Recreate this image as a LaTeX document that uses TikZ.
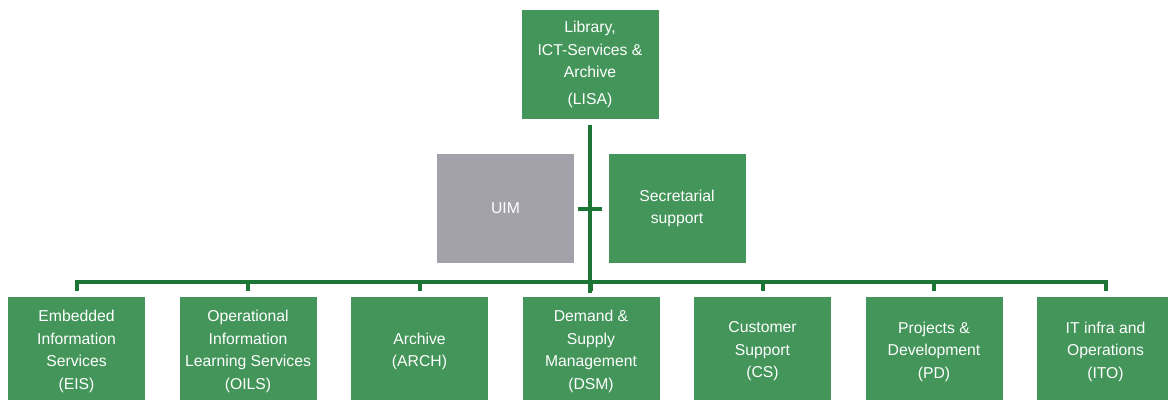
\documentclass[tikz,border=0pt]{standalone}
\usepackage{fontspec}
\setmainfont{Liberation Sans}
\definecolor{boxgreen}{HTML}{43955A}
\definecolor{linegreen}{HTML}{1D7535}
\definecolor{uimgray}{HTML}{A3A2AB}
\begin{document}
\begin{tikzpicture}[x=0.75pt,y=-0.75pt,
  unit/.style={fill=boxgreen, text=white, align=center,
    minimum width=102.75pt, minimum height=81.75pt, inner sep=0pt,
    font=\fontsize{11.8}{16.9}\selectfont},
  graybox/.style={unit, fill=uimgray},
  conn/.style={draw=linegreen, line width=3pt}]
  \useasboundingbox (0,0) rectangle (1168,400);
  \clip (0,0) rectangle (1168,400);

  % management
  \node[unit] (lisa) at (590,64.5) {Library,\\ICT-Services \&\\Archive\\[3pt](LISA)};
  \node[graybox] (uim) at (505.5,208.5) {UIM};
  \node[unit] (sec) at (677,208.5) {Secretarial\\support};

  % departments
  \node[unit] (eis)  at (76.5,351.5)  {Embedded\\Information\\Services\\(EIS)};
  \node[unit] (oils) at (248,351.5)   {Operational\\Information\\Learning Services\\(OILS)};
  \node[unit] (arch) at (419.5,351.5) {Archive\\(ARCH)};
  \node[unit] (dsm)  at (591,351.5)   {Demand \&\\Supply\\Management\\(DSM)};
  \node[unit] (cs)   at (762.5,351.5) {Customer\\Support\\(CS)};
  \node[unit] (pd)   at (934,351.5)   {Projects \&\\Development\\(PD)};
  \node[unit] (ito)  at (1105.5,351.5){IT infra and\\Operations\\(ITO)};

  % connectors
  \coordinate (bus) at (590,282);
  \coordinate (trunkend) at (590,293);
  \draw[conn, shorten <=4pt] (lisa.south) -- (trunkend);
  \draw[conn] ([xshift=3pt]uim.east) -- ([xshift=-4.5pt]sec.west);
  \draw[conn, line cap=rect] (eis.north |- bus) -- (ito.north |- bus);
  \foreach \d in {eis,oils,arch,dsm,cs,pd,ito}
    \draw[conn] (\d.north |- bus) -- ([yshift=4pt]\d.north);
\end{tikzpicture}
\end{document}
